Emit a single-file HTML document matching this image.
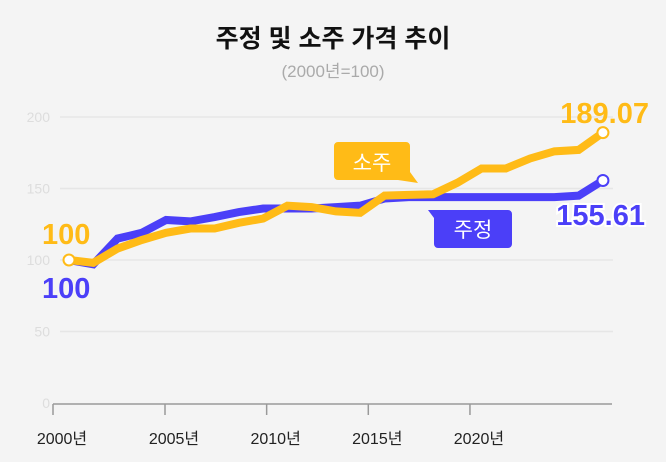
<!DOCTYPE html>
<html><head><meta charset="utf-8">
<style>
body{margin:0;background:#f4f4f4;width:666px;height:462px;overflow:hidden;font-family:"Liberation Sans","Noto Sans CJK KR",sans-serif;}
svg{display:block}
</style></head><body>
<svg id="c" width="666" height="462">
<text x="333" y="47" text-anchor="middle" font-size="25" font-weight="bold" fill="#111" font-family="Liberation Sans, Noto Sans CJK KR, sans-serif">주정 및 소주 가격 추이</text>
<text x="333" y="77" text-anchor="middle" font-size="17" fill="#aaa" font-family="Liberation Sans, Noto Sans CJK KR, sans-serif">(2000년=100)</text>
</svg>
<script>
const years=[2000,2001,2002,2003,2004,2005,2006,2007,2008,2009,2010,2011,2012,2013,2014,2015,2016,2017,2018,2019,2020,2021,2022];
const soju=[100,98,108,114,119,122,122,126,129,138,137,134,133,145,145.5,146,154,164,164,171,176,177,189.07];
const jujeong=[100,97,115,119,128,127,130,133.5,136,136,136,137,138,143,144,144,144,144,144,144,144,145,155.61];
const yTicks=[0,50,100,150,200];
const xTickYears=[2000,2005,2010,2015,2020];
const NS="http://www.w3.org/2000/svg";
const svg=document.getElementById('c');
const y=v=>403-v*1.43;
const x=yr=>69+(yr-2000)*24.27;
const xt=yr=>yr<=2000?53:165+(yr-2005)*20.33;
function el(t,a,p){const e=document.createElementNS(NS,t);for(const k in a)e.setAttribute(k,a[k]);(p||svg).appendChild(e);return e;}
yTicks.forEach(v=>{
 if(v>0){const g=el('line',{x1:60,x2:613,y1:y(v),y2:y(v),stroke:'#e6e6e6','stroke-width':1.5});
 
 }
 const t=el('text',{x:50,y:y(v)+5,'text-anchor':'end','font-size':14,fill:'#ddd'});t.textContent=v;
 
 
});
const ax=el('line',{x1:53,x2:612,y1:404,y2:404,stroke:'#999','stroke-width':1.5});


xTickYears.forEach(yr=>{
 const tk=el('line',{x1:xt(yr),x2:xt(yr),y1:404,y2:415,stroke:'#999','stroke-width':1.5});
 
 
 const t=el('text',{x:xt(yr)+9,y:444,'text-anchor':'middle','font-size':16,fill:'#222'});t.textContent=yr+'년';
 
 
});
function series(vals,color,name){
 const p=el('polyline',{points:vals.map((v,i)=>x(years[i])+','+y(v)).join(' '),fill:'none',stroke:color,'stroke-width':8,'stroke-linejoin':'miter'});
 
 
}
series(jujeong,'#4b3ff8','jujeong');
series(soju,'#ffbb17','soju');
function dot(yr,v,color,name){const c=el('circle',{cx:x(yr),cy:y(v),r:5.5,fill:'#fff',stroke:color,'stroke-width':2});
 
 }
dot(2000,100,'#ffbb17','start-point');
dot(2022,soju[soju.length-1],'#ffbb17','soju-end-point');
dot(2022,jujeong[jujeong.length-1],'#4b3ff8','jujeong-end-point');
function lab(txt,xx,yy,color,anchor,name,stroke){
 const t=el('text',{x:xx,y:yy,'text-anchor':anchor,'font-size':29,'font-weight':'bold',fill:color});
 if(stroke){t.setAttribute('stroke','#fff');t.setAttribute('stroke-width','4');t.setAttribute('paint-order','stroke');}
 t.textContent=txt;
 
 
}
lab('100',42,244,'#ffbb17','start','soju-start-label');
lab('100',42,298,'#4b3ff8','start','jujeong-start-label');
lab(soju[soju.length-1].toFixed(2),649,123,'#ffbb17','end','soju-end-label');
lab(jujeong[jujeong.length-1].toFixed(2),645,225,'#4b3ff8','end','jujeong-end-label',true);
const cs=el('path',{d:'M338,142 H406 a4,4 0 0 1 4,4 V172 L418,183 L398,180 H338 a4,4 0 0 1 -4,-4 V146 a4,4 0 0 1 4,-4 Z',fill:'#ffbb17'});


const t1=el('text',{x:372,y:170,'text-anchor':'middle','font-size':21,fill:'#fff'});t1.textContent='소주';


const cj=el('path',{d:'M428,210 L445,210 H508 a4,4 0 0 1 4,4 V244 a4,4 0 0 1 -4,4 H438 a4,4 0 0 1 -4,-4 V218 Z',fill:'#4b3ff8'});


const t2=el('text',{x:473,y:237,'text-anchor':'middle','font-size':21,fill:'#fff'});t2.textContent='주정';


</script>
</body></html>
